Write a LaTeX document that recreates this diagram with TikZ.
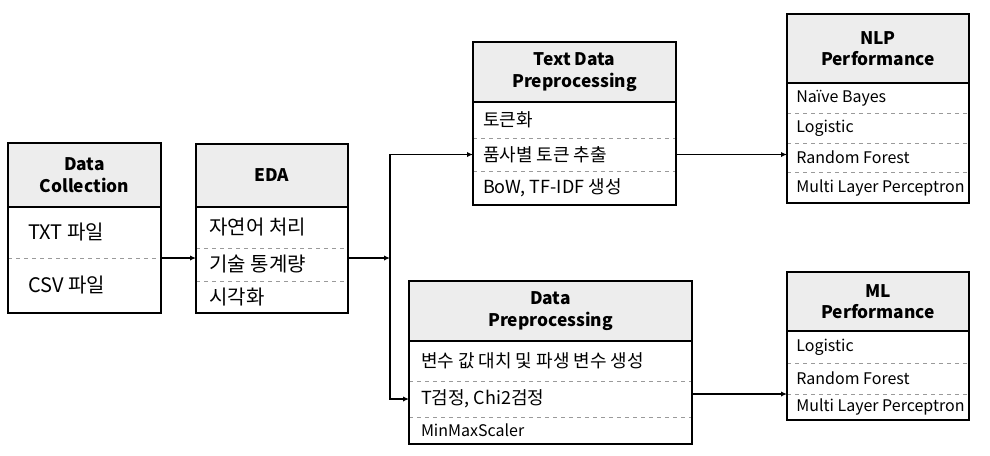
\documentclass[tikz,border=0pt]{standalone}
\usepackage{fontspec}
\setmainfont{Noto Sans CJK KR}
\usetikzlibrary{arrows.meta,positioning,calc}
\definecolor{headfill}{HTML}{EDEDED}
\definecolor{sepline}{HTML}{9A9A9A}

\begin{document}
\begin{tikzpicture}[x=0.75pt,y=-0.75pt,>={Latex[length=4.5pt,width=4pt]},
 head/.style={draw,line width=1.5pt,fill=headfill,anchor=north west,align=center,inner sep=0pt,outer sep=0pt,font=\bfseries\fontsize{13}{16}\selectfont},
 item/.style 2 args={anchor=north west,inner xsep=#1,inner ysep=0pt,outer sep=0pt,font=\fontsize{#2}{#2}\selectfont},
 frame/.style={line width=1.5pt},
 sep/.style={dashed,draw=sepline,line width=0.6pt},
 link/.style={->,line width=0.9pt}]
 \useasboundingbox (0,0) rectangle (990,455);
 % Data Collection
 \node[head,minimum width=114.75pt,minimum height=48pt] (dc) at (8,143) {Data\\Collection};
 \node[item={15pt}{15},minimum height=38.25pt] (dc1) at (dc.south west) {TXT 파일};
 \node[item={15pt}{15},minimum height=41.25pt] (dc2) at (dc1.south west) {CSV 파일};
 \draw[sep] (dc1.south west) -- (dc1.south west -| dc.east);
 \draw[frame] (dc.north west) rectangle (dc2.south west -| dc.east);
 % EDA
 \node[head,minimum width=114pt,minimum height=47.25pt] (eda) at (196,144) {EDA};
 \node[item={10pt}{15},minimum height=30.75pt] (e1) at (eda.south west) {자연어 처리};
 \node[item={10pt}{15},minimum height=24.75pt] (e2) at (e1.south west) {기술 통계량};
 \node[item={10pt}{15},minimum height=24pt] (e3) at (e2.south west) {시각화};
 \draw[sep] (e1.south west) -- (e1.south west -| eda.east);
 \draw[sep] (e2.south west) -- (e2.south west -| eda.east);
 \draw[frame] (eda.north west) rectangle (e3.south west -| eda.east);
 % Text Data Preprocessing
 \node[head,minimum width=152.25pt,minimum height=45pt] (tdp) at (473,42) {Text Data\\Preprocessing};
 \node[item={7.5pt}{13.5},minimum height=27pt] (t1) at (tdp.south west) {토큰화};
 \node[item={7.5pt}{13.5},minimum height=24.75pt] (t2) at (t1.south west) {품사별 토큰 추출};
 \node[item={7.5pt}{13.5},minimum height=25.5pt] (t3) at (t2.south west) {BoW, TF-IDF 생성};
 \draw[sep] (t1.south west) -- (t1.south west -| tdp.east);
 \draw[sep] (t2.south west) -- (t2.south west -| tdp.east);
 \draw[frame] (tdp.north west) rectangle (t3.south west -| tdp.east);
 % Data Preprocessing
 \node[head,minimum width=212.25pt,minimum height=45pt] (dp) at (409,281) {Data\\Preprocessing};
 \node[item={9pt}{13.5},minimum height=30pt] (d1) at (dp.south west) {변수 값 대치 및 파생 변수 생성};
 \node[item={9pt}{13.5},minimum height=27pt] (d2) at (d1.south west) {T검정, Chi2검정};
 \node[item={9pt}{12},minimum height=20.25pt] (d3) at (d2.south west) {MinMaxScaler};
 \draw[sep] (d1.south west) -- (d1.south west -| dp.east);
 \draw[sep] (d2.south west) -- (d2.south west -| dp.east);
 \draw[frame] (dp.north west) rectangle (d3.south west -| dp.east);
 % NLP Performance
 \node[head,minimum width=136.5pt,minimum height=51.75pt] (nlp) at (787,14) {NLP\\Performance};
 \node[item={7pt}{12},minimum height=22.5pt] (n1) at (nlp.south west) {Naïve Bayes};
 \node[item={7pt}{12},minimum height=22.5pt] (n2) at (n1.south west) {Logistic};
 \node[item={7pt}{12},minimum height=21.75pt] (n3) at (n2.south west) {Random Forest};
 \node[item={7pt}{12},minimum height=23.25pt] (n4) at (n3.south west) {Multi Layer Perceptron};
 \draw[sep] (n1.south west) -- (n1.south west -| nlp.east);
 \draw[sep] (n2.south west) -- (n2.south west -| nlp.east);
 \draw[sep] (n3.south west) -- (n3.south west -| nlp.east);
 \draw[frame] (nlp.north west) rectangle (n4.south west -| nlp.east);
 % ML Performance
 \node[head,minimum width=136.5pt,minimum height=44.25pt] (ml) at (787,272) {ML\\Performance};
 \node[item={7pt}{12},minimum height=24pt] (m1) at (ml.south west) {Logistic};
 \node[item={7pt}{12},minimum height=23.25pt] (m2) at (m1.south west) {Random Forest};
 \node[item={7pt}{12},minimum height=19.5pt] (m3) at (m2.south west) {Multi Layer Perceptron};
 \draw[sep] (m1.south west) -- (m1.south west -| ml.east);
 \draw[sep] (m2.south west) -- (m2.south west -| ml.east);
 \draw[frame] (ml.north west) rectangle (m3.south west -| ml.east);
 % connectors
 \coordinate (split) at ($(dc1.south west -| eda.east)+(42,0)$);
 \draw[link] (dc1.south west -| dc.east) -- (dc1.south west -| eda.west);
 \draw[link] (dc1.south west -| eda.east) -- (split);
 \draw[link] (split) |- (t2.west);
 \draw[link] (split) |- (d2.west);
 \draw[link] (t2.west -| tdp.east) -- (t2.west -| nlp.west);
 \draw[link] (m2.south west -| dp.east) -- (m2.south west);
\end{tikzpicture}
\end{document}
